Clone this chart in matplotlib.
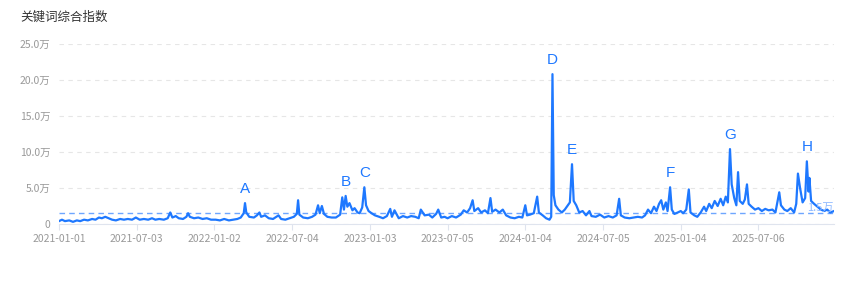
#!/usr/bin/env python3

import matplotlib
matplotlib.use('Agg')
import matplotlib.pyplot as plt
import matplotlib.dates as mdates
import pandas as pd

plt.rcParams['font.family'] = ['Noto Sans CJK SC', 'DejaVu Sans']

# values in units of 万 (10k)
dates = [
	# 2021
	'2021-01-01', '2021-01-08', '2021-01-15', '2021-01-25', '2021-02-03', '2021-02-12', '2021-02-20',
	'2021-03-01', '2021-03-10', '2021-03-20', '2021-03-28', '2021-04-05', '2021-04-12', '2021-04-20',
	'2021-04-28', '2021-05-06', '2021-05-15', '2021-05-25', '2021-06-03', '2021-06-12', '2021-06-22',
	'2021-07-01', '2021-07-10', '2021-07-20', '2021-07-30', '2021-08-08', '2021-08-16', '2021-08-25',
	'2021-09-05', '2021-09-14', '2021-09-20', '2021-09-25', '2021-10-03', '2021-10-10', '2021-10-20',
	'2021-10-28', '2021-11-01', '2021-11-05', '2021-11-15', '2021-11-25', '2021-12-05', '2021-12-15',
	'2021-12-25',
	# 2022
	'2022-01-05', '2022-01-15', '2022-01-25', '2022-02-05', '2022-02-15', '2022-02-25', '2022-03-05',
	'2022-03-12', '2022-03-15', '2022-03-18', '2022-03-25', '2022-04-05', '2022-04-12', '2022-04-18',
	'2022-04-22', '2022-05-01', '2022-05-10', '2022-05-20', '2022-06-02', '2022-06-08', '2022-06-18',
	'2022-06-28', '2022-07-08', '2022-07-15', '2022-07-18', '2022-07-21', '2022-07-30', '2022-08-10',
	'2022-08-20', '2022-08-28', '2022-09-03', '2022-09-07', '2022-09-12', '2022-09-17', '2022-09-25',
	'2022-10-05', '2022-10-15', '2022-10-25', '2022-10-30', '2022-11-03', '2022-11-07', '2022-11-11',
	'2022-11-16', '2022-11-23', '2022-11-28', '2022-12-05', '2022-12-10', '2022-12-16', '2022-12-21',
	'2022-12-25', '2022-12-31',
	# 2023
	'2023-01-07', '2023-01-15', '2023-01-25', '2023-02-03', '2023-02-12', '2023-02-20', '2023-02-24',
	'2023-03-02', '2023-03-12', '2023-03-22', '2023-04-01', '2023-04-10', '2023-04-20', '2023-04-28',
	'2023-05-03', '2023-05-12', '2023-05-22', '2023-05-30', '2023-06-08', '2023-06-13', '2023-06-20',
	'2023-06-28', '2023-07-05', '2023-07-15', '2023-07-25', '2023-08-05', '2023-08-12', '2023-08-20',
	'2023-08-27', '2023-09-02', '2023-09-06', '2023-09-15', '2023-09-22', '2023-10-01', '2023-10-08',
	'2023-10-14', '2023-10-18', '2023-10-26', '2023-11-04', '2023-11-12', '2023-11-20', '2023-11-30',
	'2023-12-10', '2023-12-20', '2023-12-28',
	# 2024
	'2024-01-04', '2024-01-08', '2024-01-15', '2024-01-24', '2024-02-01', '2024-02-05', '2024-02-14',
	'2024-02-22', '2024-03-01', '2024-03-05', '2024-03-08', '2024-03-11', '2024-03-15', '2024-03-22',
	'2024-03-30', '2024-04-06', '2024-04-12', '2024-04-18', '2024-04-23', '2024-04-27', '2024-05-03',
	'2024-05-10', '2024-05-18', '2024-05-26', '2024-06-03', '2024-06-08', '2024-06-18', '2024-06-28',
	'2024-07-08', '2024-07-18', '2024-07-28', '2024-08-06', '2024-08-12', '2024-08-16', '2024-08-25',
	'2024-09-05', '2024-09-15', '2024-09-25', '2024-10-05', '2024-10-12', '2024-10-19', '2024-10-26',
	'2024-11-02', '2024-11-08', '2024-11-14', '2024-11-19', '2024-11-24', '2024-11-30', '2024-12-04',
	'2024-12-10', '2024-12-14', '2024-12-20', '2024-12-28',
	# 2025
	'2025-01-04', '2025-01-10', '2025-01-17', '2025-01-23', '2025-01-27', '2025-02-05', '2025-02-12',
	'2025-02-20', '2025-02-28', '2025-03-05', '2025-03-12', '2025-03-18', '2025-03-25', '2025-04-01',
	'2025-04-08', '2025-04-14', '2025-04-20', '2025-04-25', '2025-04-30', '2025-05-04', '2025-05-10',
	'2025-05-15', '2025-05-19', '2025-05-23', '2025-05-30', '2025-06-04', '2025-06-09', '2025-06-13',
	'2025-06-20', '2025-06-28', '2025-07-06', '2025-07-14', '2025-07-22', '2025-07-30', '2025-08-08',
	'2025-08-15', '2025-08-24', '2025-08-28', '2025-09-05', '2025-09-12', '2025-09-20', '2025-09-28',
	'2025-10-03', '2025-10-07', '2025-10-12', '2025-10-18', '2025-10-24', '2025-10-28', '2025-11-01',
	'2025-11-03', '2025-11-07', '2025-11-14', '2025-11-22', '2025-11-30', '2025-12-08', '2025-12-15',
	'2025-12-22', '2025-12-31',
]

values = [
	# 2021
	0.4, 0.6, 0.4, 0.5, 0.3, 0.5, 0.4,
	0.6, 0.5, 0.7, 0.6, 0.9, 0.8, 1.0,
	0.8, 0.6, 0.5, 0.7, 0.6, 0.7, 0.6,
	0.9, 0.6, 0.7, 0.6, 0.8, 0.6, 0.7,
	0.6, 0.8, 1.6, 0.9, 1.1, 0.8, 0.7,
	1.0, 1.5, 1.0, 0.8, 0.9, 0.7, 0.8,
	0.6,
	# 2022
	0.6, 0.5, 0.7, 0.5, 0.6, 0.7, 0.9,
	1.5, 2.9, 1.6, 1.0, 0.9, 1.2, 1.6,
	1.0, 1.2, 0.8, 0.7, 1.2, 0.7, 0.6,
	0.8, 1.0, 1.4, 3.3, 1.3, 0.9, 0.8,
	1.0, 1.3, 2.6, 1.5, 2.5, 1.4, 1.0,
	0.9, 0.9, 1.3, 3.7, 2.0, 3.9, 2.4,
	2.9, 1.9, 2.2, 1.6, 1.5, 2.3, 5.1,
	2.6, 1.8,
	# 2023
	1.5, 1.2, 1.0, 0.8, 1.1, 2.1, 1.0,
	1.9, 0.8, 1.1, 0.9, 1.1, 1.0, 0.8,
	2.0, 1.2, 1.3, 0.9, 1.4, 2.0, 0.9,
	1.0, 0.8, 1.1, 0.9, 1.3, 1.9, 1.6,
	2.2, 3.3, 1.8, 2.2, 1.6, 1.9, 1.5,
	3.6, 1.7, 2.0, 1.6, 2.0, 1.2, 0.9,
	0.8, 1.0, 0.9,
	# 2024
	2.6, 1.2, 1.3, 1.5, 3.8, 1.6, 1.2,
	0.8, 0.6, 1.0, 20.8, 4.0, 2.6, 2.0,
	1.6, 2.0, 2.5, 3.0, 8.3, 3.2, 2.6,
	1.6, 1.8, 1.2, 1.8, 1.1, 1.0, 1.3,
	0.9, 1.1, 0.9, 1.2, 3.5, 1.2, 0.9,
	0.8, 0.9, 1.0, 0.9, 1.2, 2.0, 1.5,
	2.4, 1.8, 2.8, 3.3, 2.0, 3.0, 1.8,
	5.1, 2.0, 1.4, 1.6,
	# 2025
	1.8, 1.5, 2.0, 4.8, 1.6, 1.2, 1.0,
	1.6, 2.4, 1.8, 2.8, 2.2, 3.2, 2.5,
	3.5, 2.6, 3.8, 3.0, 10.4, 5.5, 3.6,
	2.6, 7.2, 3.2, 2.8, 3.4, 5.5, 2.8,
	2.4, 2.0, 2.2, 1.8, 2.1, 1.9, 2.0,
	1.6, 4.4, 2.6, 2.0, 1.8, 2.2, 1.6,
	2.8, 7.0, 5.0, 3.0, 3.6, 8.7, 4.5,
	6.4, 3.2, 2.8, 2.4, 2.0, 1.8, 2.0,
	1.6, 1.8,
]

average = 1.5

peak_labels = ['A', 'B', 'C', 'D', 'E', 'F', 'G', 'H']
peak_dates = ['2022-03-15', '2022-11-07', '2022-12-21', '2024-03-08',
	'2024-04-23', '2024-12-10', '2025-04-30', '2025-10-28']

tick_dates = ['2021-01-01', '2021-07-03', '2022-01-02', '2022-07-04', '2023-01-03',
	'2023-07-05', '2024-01-04', '2024-07-05', '2025-01-04', '2025-07-06']
y_ticks = [0, 5, 10, 15, 20, 25]

BLUE = '#1e78ff'


def plot_results():
	series = pd.Series(values, index=pd.to_datetime(dates))

	fig = plt.figure(figsize=(8.65, 2.85), dpi=100)
	ax = fig.add_axes([0.0682, 0.214, 0.896, 0.632])

	ax.plot(series.index, series.values, color=BLUE, linewidth=1.6, zorder=3)
	ax.axhline(average, color='#6ea6ff', linewidth=1.0, linestyle=(0, (4, 3)), zorder=2)
	ax.text(series.index[-1], average + 0.1, '%.1f万' % average, color='#8fbaff',
		fontsize=8, ha='right', va='bottom', zorder=4)

	for lab, d in zip(peak_labels, peak_dates):
		t = pd.Timestamp(d)
		ax.annotate(lab, (t, series[t]), xytext=(0, 5), textcoords='offset points',
			ha='center', va='bottom', color=BLUE, fontsize=11, family=['Liberation Sans'])

	ax.set_xlim(pd.Timestamp('2021-01-01'), pd.Timestamp('2025-12-31'))
	ax.set_ylim(0, 25)
	ax.set_yticks(y_ticks)
	ax.set_yticklabels(['0' if v == 0 else '%.1f万' % v for v in y_ticks])
	ax.set_xticks(pd.to_datetime(tick_dates))
	ax.xaxis.set_major_formatter(mdates.DateFormatter('%Y-%m-%d'))

	ax.grid(axis='y', color='#e6e6e6', linestyle=(0, (4, 4)), linewidth=0.8)
	ax.grid(axis='x', visible=False)
	for side in ['top', 'right', 'left']:
		ax.spines[side].set_visible(False)
	ax.spines['bottom'].set_color('#dfe4ee')
	ax.tick_params(axis='y', length=0, pad=6, labelsize=7.5, labelcolor='#999999')
	ax.tick_params(axis='x', length=4, color='#dfe4ee', pad=3, labelsize=7.5, labelcolor='#999999')

	fig.text(20 / 865, 1 - 17 / 285, '关键词综合指数', fontsize=9, color='#333333', va='center')

	fig.savefig('out.png', dpi=100)


if __name__ == '__main__':
	plot_results()
